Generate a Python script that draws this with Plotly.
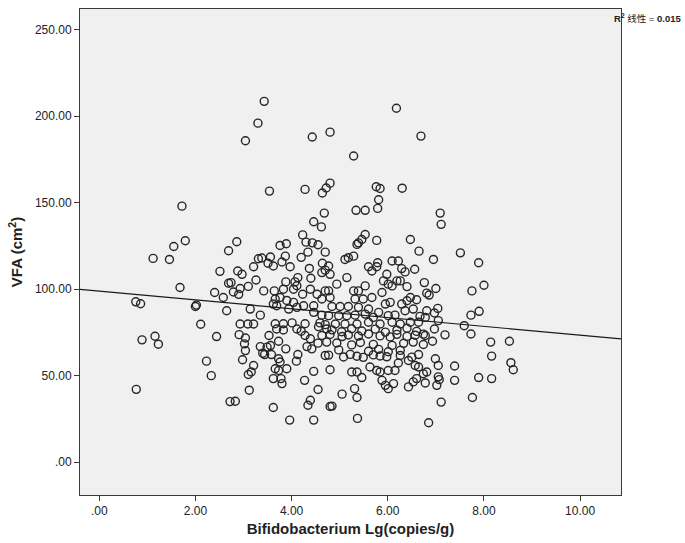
import plotly.graph_objects as go
import numpy as np

# Bifidobacterium Lg(copies/g) and VFA (cm^2) values
bifido_lg = [
    3.43, 3.30, 3.04, 4.43, 4.80, 3.54, 4.28, 4.64, 4.72, 4.80, 4.68, 6.18, 6.69, 5.29, 5.76, 5.84, 6.30, 5.81, 5.79, 5.34, 5.53, 1.72, 7.09,
    1.79, 1.55, 1.12, 1.46, 2.69, 2.51, 2.69, 1.68, 2.40, 2.58, 2.65, 0.76, 0.86, 2.00, 2.02, 2.11,
    2.44, 0.89, 1.16, 1.23, 2.23, 2.33, 0.77, 2.72,
    4.46, 4.62, 4.23, 4.30, 4.43, 4.55, 3.76, 3.89, 2.86, 4.34, 4.70, 4.20, 3.87, 3.80, 3.97, 3.31, 3.38, 3.56, 3.51, 3.62, 3.21,
    4.64, 4.70, 4.63, 4.37, 2.88, 2.97, 2.74, 2.79, 2.93, 2.90, 3.10, 3.26, 3.42, 3.64, 3.83, 3.88, 4.07, 4.13, 4.11, 4.04, 4.23,
    4.40, 4.39, 4.53, 4.70, 4.63, 3.66, 3.76, 3.90, 4.04, 4.11, 4.25, 4.46, 4.46, 4.63, 3.62, 3.69, 3.94, 3.14, 3.35, 2.93, 3.09,
    3.21, 3.66, 3.83, 4.01, 4.28, 4.59, 4.70,
    2.91, 3.04, 3.02, 3.04, 2.98, 3.21, 3.10, 3.16, 3.12, 2.83, 3.62, 3.96, 4.46, 3.35, 3.40, 3.49, 3.44, 3.56, 3.58, 3.69, 3.83,
    3.53, 3.73, 3.88, 3.73, 3.76, 3.66, 3.73, 3.90, 3.62, 3.78, 3.80, 4.10, 4.13, 4.27, 4.46, 4.55, 4.39, 4.34, 4.80, 4.11, 4.20,
    4.28, 4.39, 4.32, 4.42, 4.55, 4.63, 4.73, 4.73, 4.70, 4.56,
    5.53, 5.46, 5.39, 5.36, 5.77, 6.47, 6.65, 4.77, 4.80, 5.11, 5.18, 5.29, 5.60, 5.67, 5.79, 5.77, 6.09, 6.22, 6.29, 6.36, 6.56,
    5.15, 4.94, 5.98, 5.91, 6.01, 6.09, 6.19, 6.26, 6.40, 6.76, 6.81, 4.77, 4.80, 5.29, 5.39, 5.53, 5.32, 5.49, 5.67, 5.88, 5.95,
    6.05, 6.29, 6.40, 6.47, 6.60, 6.36, 6.53, 6.67, 6.81, 4.84, 5.01, 5.18, 5.39, 5.60, 5.81, 4.77, 4.98, 5.15, 5.32, 5.53, 5.70,
    6.01, 6.15, 4.91, 5.11, 5.36, 5.60, 5.84, 6.09, 6.26, 6.47, 6.64,
    4.84, 5.04, 5.25, 5.46, 5.74, 5.95, 6.19, 6.40, 6.60,
    4.80, 5.05, 5.18, 5.39, 5.60, 5.84, 6.05, 6.19, 6.40, 6.57, 6.74,
    4.94, 5.25, 5.43, 5.70, 6.09, 6.33, 6.53, 6.74,
    4.98, 5.60, 5.81, 6.01, 6.26,
    4.77, 5.08, 5.22, 5.36, 5.49, 5.70, 5.84, 5.98, 6.64,
    4.80, 5.25, 5.36, 5.46, 5.63, 5.77, 5.84, 6.01, 6.15, 6.22, 6.26, 6.43, 6.50, 6.57, 6.64, 6.74, 6.81, 5.88, 5.95, 6.01, 6.12,
    6.43, 6.53, 6.60, 6.78, 5.31, 5.36, 5.05, 4.84, 5.37, 6.85,
    7.11, 7.51, 6.95, 7.89, 7.00, 6.86, 7.75, 8.00, 7.04, 6.97, 7.05, 6.78, 7.73, 7.90, 7.59, 6.97,
    6.78, 6.93, 7.19, 7.73, 8.14, 8.53, 8.16, 8.56, 8.61, 6.99, 7.05, 7.39, 7.05, 7.07, 7.02, 7.39, 7.89, 8.16, 7.76, 7.11,
]
vfa = [
    208.6, 196.0, 185.8, 188.0, 190.8, 156.7, 157.7, 155.6, 158.5, 161.3, 144.0, 204.6, 188.5, 177.0, 159.2, 158.2, 158.4, 151.7, 146.7, 145.6, 145.6, 148.0, 144.0,
    128.0, 124.7, 117.8, 117.2, 122.2, 110.3, 103.4, 101.0, 98.1, 95.2, 87.5, 92.7, 91.6, 90.0, 90.8, 79.7,
    72.6, 70.7, 72.8, 68.2, 58.4, 50.0, 42.1, 35.0,
    139.0, 136.0, 131.4, 127.2, 126.8, 125.7, 125.3, 126.3, 127.4, 121.4, 121.4, 118.4, 119.1, 115.7, 113.0, 117.6, 118.0, 118.6, 115.0, 113.4, 113.0,
    115.0, 111.0, 109.6, 112.0, 110.5, 108.6, 103.8, 98.4, 100.4, 97.0, 101.6, 105.3, 99.0, 99.0, 100.0, 104.2, 104.2, 106.7, 102.0, 100.0, 97.1,
    106.3, 100.0, 97.1, 99.0, 94.3, 94.3, 95.2, 93.5, 92.4, 89.5, 90.4, 90.4, 86.6, 85.0, 91.4, 90.4, 88.5, 88.5, 85.0, 79.9, 79.9,
    79.9, 80.0, 80.0, 80.5, 80.0, 80.5, 79.5,
    73.7, 71.8, 68.4, 64.5, 59.2, 55.9, 50.7, 52.1, 41.6, 35.2, 31.6, 24.3, 24.3, 66.8, 63.0, 66.5, 62.2, 67.4, 62.2, 77.0, 76.4,
    73.2, 69.9, 65.5, 59.8, 57.9, 54.0, 53.0, 54.0, 48.3, 48.3, 45.4, 58.4, 62.2, 47.3, 52.5, 42.0, 35.8, 32.9, 32.2, 77.0, 75.7,
    73.2, 71.3, 66.8, 65.5, 68.8, 73.2, 77.0, 69.4, 61.7, 78.3,
    131.6, 128.7, 126.8, 125.9, 128.2, 128.7, 122.0, 113.4, 108.6, 117.2, 118.2, 119.1, 113.0, 110.5, 115.3, 113.0, 116.3, 116.3, 111.9, 110.0, 111.5,
    106.7, 102.9, 108.6, 104.8, 102.9, 101.9, 104.8, 104.8, 101.5, 103.8, 97.7, 99.0, 95.2, 99.0, 99.0, 101.9, 94.3, 94.3, 95.2, 98.1, 91.4,
    92.4, 91.4, 93.3, 95.2, 93.9, 87.5, 88.5, 84.3, 87.5, 90.0, 90.0, 90.0, 89.5, 88.5, 86.6, 84.7, 84.7, 84.7, 85.0, 85.6, 83.7,
    84.7, 85.0, 79.9, 79.9, 79.9, 80.9, 79.9, 80.9, 79.9, 80.9, 80.9,
    76.5, 75.4, 77.1, 75.8, 76.9, 75.2, 76.3, 77.4, 75.6,
    73.8, 72.6, 73.5, 72.9, 74.1, 73.0, 72.4, 73.9, 72.7, 73.4, 74.0,
    68.9, 67.8, 69.2, 68.1, 67.5, 68.7, 69.4, 68.0,
    64.9, 64.1, 65.2, 63.8, 64.6,
    61.9, 60.8, 62.3, 61.2, 60.6, 62.0, 61.4, 60.9, 62.2,
    53.4, 52.1, 52.1, 48.9, 55.0, 53.0, 52.1, 53.0, 53.0, 57.3, 61.7, 58.8, 60.7, 55.9, 55.0, 51.1, 52.1, 47.3, 44.4, 42.5, 45.4,
    43.5, 46.4, 48.3, 45.8, 42.5, 37.4, 39.3, 32.4, 25.3, 22.8,
    137.5, 121.0, 117.2, 115.3, 100.4, 96.6, 99.0, 102.3, 88.9, 86.2, 81.8, 83.7, 85.0, 87.2, 78.9, 77.0,
    73.2, 69.9, 73.6, 74.1, 69.4, 69.9, 61.3, 57.5, 53.4, 59.8, 55.9, 55.6, 49.3, 47.7, 44.4, 47.3, 48.9, 48.3, 37.4, 34.7,
]

fit_intercept = 98.9
fit_slope = -2.55
r_squared_label = "0.015"

x_range = [-0.4, 10.85]
y_range = [-19, 262]
x_ticks = [0, 2, 4, 6, 8, 10]
x_ticklabels = [".00", "2.00", "4.00", "6.00", "8.00", "10.00"]
y_ticks = [0, 50, 100, 150, 200, 250]
y_ticklabels = [".00", "50.00", "100.00", "150.00", "200.00", "250.00"]

fig = go.Figure()
fig.add_trace(go.Scatter(
    x=bifido_lg, y=vfa, mode="markers",
    marker=dict(symbol="circle-open", size=8, color="#262626", line=dict(width=1.4, color="#262626")),
    hoverinfo="skip", showlegend=False,
))
line_x = np.array(x_range)
fig.add_trace(go.Scatter(
    x=line_x, y=fit_intercept + fit_slope * line_x, mode="lines",
    line=dict(color="#1a1a1a", width=1.2), hoverinfo="skip", showlegend=False,
))

axis_common = dict(
    showgrid=False, zeroline=False, showline=True, mirror=True,
    linecolor="#3a3a3a", linewidth=1, ticks="outside", ticklen=5, tickcolor="#3a3a3a",
    tickfont=dict(family="Liberation Sans, Arial, sans-serif", size=12, color="#222222"),
)
fig.update_layout(
    width=685, height=543,
    margin=dict(l=80, r=64, t=8, b=46),
    paper_bgcolor="white", plot_bgcolor="#f0f0f0",
    xaxis=dict(range=x_range, tickvals=x_ticks, ticktext=x_ticklabels,
               title=dict(text="<b>Bifidobacterium Lg(copies/g)</b>", standoff=6,
                          font=dict(family="Liberation Sans, Arial, sans-serif", size=15, color="#222222")),
               **axis_common),
    yaxis=dict(range=y_range, tickvals=y_ticks, ticktext=y_ticklabels,
               title=dict(text="<b>VFA (cm<sup>2</sup>)</b>", standoff=8,
                          font=dict(family="Liberation Sans, Arial, sans-serif", size=15, color="#222222")),
               **axis_common),
    annotations=[dict(
        text="<b>R<sup>2</sup></b> 线性 = <b>" + r_squared_label + "</b>",
        xref="paper", yref="paper", x=1.116, y=1.0, xanchor="right", yanchor="top",
        yshift=-1, showarrow=False,
        font=dict(family="Liberation Sans, Noto Sans CJK SC, sans-serif", size=9.5, color="#222222"),
    )],
)
fig.write_html("out.html", config={"displayModeBar": False},
               post_script="document.body.style.margin='0';document.body.style.overflow='hidden';")
